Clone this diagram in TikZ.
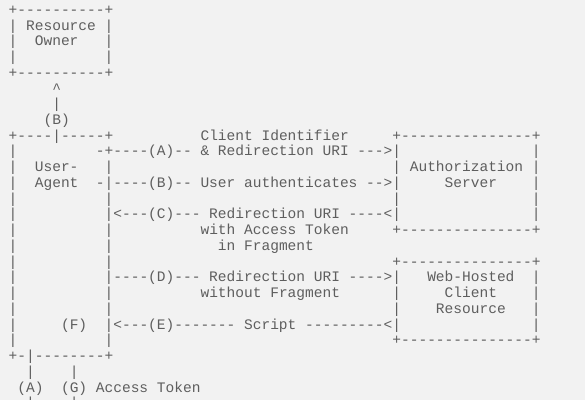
\documentclass[tikz,border=0pt]{standalone}
\usepackage{fontspec}
\setmonofont{Liberation Mono}
\usepackage{tikz}
\definecolor{paper}{HTML}{F2F2F2}
\definecolor{ink}{HTML}{5E5E5E}
\tikzset{
  ascii/.style={
    inner sep=0pt, outer sep=0pt, anchor=base west, text=ink,
    font=\ttfamily\fontsize{14.53}{15.74}\selectfont
  },
}

\begin{document}
\begin{tikzpicture}[x=8.72pt, y=-15.74pt]
  \path[use as bounding box, fill=paper] (-1,-0.909) rectangle (66.09,24.50);
  \clip (-1,-0.909) rectangle (66.09,24.50);

  % Resource owner
  \node[ascii] (ownertop) at (0,0) {+----------+};
  \foreach \r in {1,2,3} {
    \node[ascii] (ownerl\r) at (0,\r) {|};
    \node[ascii] (ownerr\r) at (11,\r) {|};
  }
  \node[ascii] (ownername) at (2,1) {Resource};
  \node[ascii] (ownername2) at (3,2) {Owner};
  \node[ascii] (ownerbot) at (0,4) {+----------+};

  % (B) up to the owner
  \node[ascii] (tipb) at (5,5) {\textasciicircum};
  \node[ascii] (stemb) at (5,6) {|};
  \node[ascii] (labb) at (4,7) {(B)};

  % User-agent box
  \node[ascii] (agenttop) at (0,8) {+----|-----+};
  \foreach \r in {9,...,21}
    \node[ascii] (agentl\r) at (0,\r) {|};
  \foreach \r in {10,12,14,15,16,18,19,21}
    \node[ascii] (agentr\r) at (11,\r) {|};
  \node[ascii] (agentname) at (3,10) {User-};
  \node[ascii] (agentname2) at (3,11) {Agent};
  \node[ascii] (labf) at (6,20) {(F)};
  \node[ascii] (agentbot) at (0,22) {+-|--------+};

  % Authorization server box
  \node[ascii] (authtop) at (44,8) {+---------------+};
  \node[ascii] (authname) at (44,10) {| Authorization |};
  \node[ascii] (authname2) at (50,11) {Server};
  \node[ascii] (authl12) at (44,12) {|};
  \foreach \r in {9,11,12,13}
    \node[ascii] (authr\r) at (60,\r) {|};
  \node[ascii] (authbot) at (44,14) {+---------------+};

  % Web-hosted client resource box
  \node[ascii] (webtop) at (44,16) {+---------------+};
  \node[ascii] (webname) at (48,17) {Web-Hosted};
  \node[ascii] (webname2) at (50,18) {Client};
  \node[ascii] (webname3) at (49,19) {Resource};
  \foreach \r in {18,19}
    \node[ascii] (webl\r) at (44,\r) {|};
  \foreach \r in {17,...,20}
    \node[ascii] (webr\r) at (60,\r) {|};
  \node[ascii] (webbot) at (44,21) {+---------------+};

  % Flows between the boxes
  \node[ascii] (flowa0) at (22,8) {Client Identifier};
  \node[ascii] (flowa) at (10,9) {-+----(A)-- \& Redirection URI --->|};
  \node[ascii] (flowb) at (10,11) {-|----(B)-- User authenticates -->|};
  \node[ascii] (flowc) at (11,13) {|<---(C)--- Redirection URI ----<|};
  \node[ascii] (flowc2) at (22,14) {with Access Token};
  \node[ascii] (flowc3) at (24,15) {in Fragment};
  \node[ascii] (flowd) at (11,17) {|----(D)--- Redirection URI ---->|};
  \node[ascii] (flowd2) at (22,18) {without Fragment};
  \node[ascii] (flowe) at (11,20) {|<---(E)------- Script ---------<|};

  % Down to the client
  \foreach \r in {23,25} {
    \node[ascii] (linka\r) at (2,\r) {|};
    \node[ascii] (linkg\r) at (7,\r) {|};
  }
  \node[ascii] (laba) at (1,24) {(A)};
  \node[ascii] (labg) at (6,24) {(G) Access Token};
\end{tikzpicture}
\end{document}
